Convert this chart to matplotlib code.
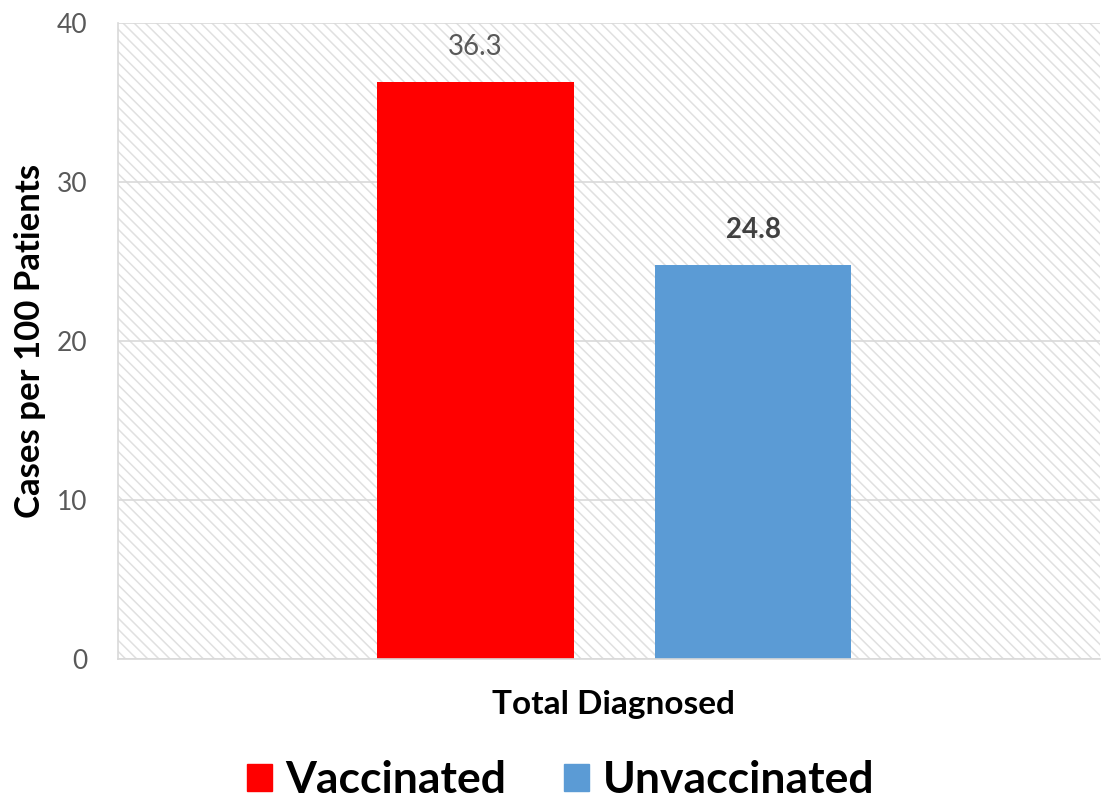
import matplotlib.pyplot as plt
from matplotlib.patches import Rectangle, Patch

# data
categories = ["Total Diagnosed"]
series_names = ["Vaccinated", "Unvaccinated"]
values = [36.3, 24.8]
colors = ["#ff0000", "#5b9bd5"]
yticks = [0, 10, 20, 30, 40]

plt.rcParams['font.family'] = ['Lato', 'DejaVu Sans']
plt.rcParams['hatch.linewidth'] = 1.1

fig = plt.figure(figsize=(11.04, 7.99), dpi=100)
ax = fig.add_axes([0.107, 0.175, 0.889, 0.796])

# hatched plot area background
ax.add_patch(Rectangle((0, 0), 1, 1, transform=ax.transAxes, facecolor='white',
                       edgecolor='#e0e0e0', hatch='\\\\\\', linewidth=0, zorder=0))

offsets = [-0.136, 0.147]
width = 0.2
for name, v, c, off in zip(series_names, values, colors, offsets):
    ax.bar(off, v, width=width, color=c, zorder=2, label=name)

# value labels (first plain, second bold as in the source)
ax.text(offsets[0], values[0] + 1.4, f"{values[0]}", ha='center', va='bottom',
        fontsize=20, color='#595959')
ax.text(offsets[1], values[1] + 1.4, f"{values[1]}", ha='center', va='bottom',
        fontsize=20, color='#404040', fontweight='bold')

ax.set_xlim(-0.5, 0.5)
ax.set_ylim(0, 40)
ax.set_yticks(yticks)
ax.set_xticks([0.005])
ax.set_xticklabels(categories, fontsize=24, fontweight='bold', color='black')
ax.tick_params(axis='y', length=0, pad=22, labelsize=19, labelcolor='#595959')
ax.tick_params(axis='x', length=0, pad=22)
ax.yaxis.grid(True, color='#d9d9d9', linewidth=1.2, zorder=1)
ax.set_axisbelow(True)
for s in ax.spines.values():
    s.set_color('#d9d9d9')
    s.set_linewidth(1.2)
ax.spines['top'].set_visible(False)
ax.spines['right'].set_visible(False)

ax.set_ylabel("Cases per 100 Patients", fontsize=25, fontweight='bold', labelpad=8)

handles = [Patch(color=c, label=n) for n, c in zip(series_names, colors)]
fig.legend(handles=handles, loc='center', bbox_to_anchor=(0.508, 0.024), ncol=2,
           frameon=False, prop={'weight': 'bold', 'size': 32},
           handlelength=0.56, handleheight=0.56, handletextpad=0.3, columnspacing=1.3)

fig.savefig("out.png", dpi=100)
